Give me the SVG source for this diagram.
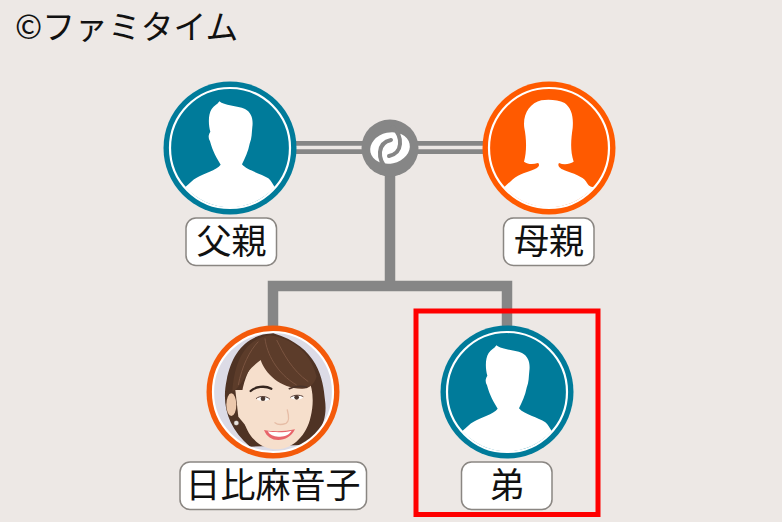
<svg xmlns="http://www.w3.org/2000/svg" width="782" height="522" viewBox="0 0 782 522">
<style>
.lb{fill:#fff;stroke:#8a8682;stroke-width:1.5}
.t{font-family:"Noto Sans CJK JP","Liberation Sans",sans-serif;font-weight:400;fill:#111;text-anchor:middle;font-size:35px}
.c{font-family:"Noto Sans CJK JP","Liberation Sans",sans-serif;font-weight:400;fill:#111;font-size:32.800px}
.ln{fill:none;stroke:#868686}
.sw{fill:none;stroke:#868686;stroke-width:4;stroke-linecap:round}
.sil{fill:#fff}
</style>
<defs>
<clipPath id="ph"><circle cx="273" cy="392" r="59"/></clipPath>
<g id="male">
<circle r="66.5" fill="#007b9a"/><circle r="60" fill="#007b9a" stroke="#fff" stroke-width="2.2"/>
<path class="sil" transform="scale(.3333) translate(-240,-235)" d="M208 95 C222 108 262 108 285 118 C305 128 310 150 307 172 C305 190 306 205 299 222 C295 245 285 265 276 284 C290 302 335 312 355 326 C364 334 368 344 374 352 A178 178 0 0 1 106 352 C118 342 128 330 140 324 C160 312 200 302 212 285 C200 265 188 245 180 215 C174 205 175 195 181 186 C175 165 174 135 185 118 C192 108 202 105 208 95Z"/>
</g>
<g id="female">
<circle r="66.5" fill="#ff5a00"/><circle r="60" fill="#ff5a00" stroke="#fff" stroke-width="2.2"/>
<path class="sil" transform="scale(.3333) translate(-238,-235)" d="M215 92 C235 88 265 90 285 100 C305 115 312 140 309 175 C305 205 300 240 312 276 C300 284 282 286 268 280 C262 288 270 298 290 304 C325 316 345 325 352 340 C356 347 360 352 372 352 A178 178 0 0 1 104 352 C118 340 128 328 145 318 C165 308 195 302 205 292 C210 288 208 282 205 280 C190 285 175 285 163 276 C172 245 170 205 164 175 C158 135 180 100 215 92Z"/>
</g>
</defs>
<rect width="782" height="522" fill="#ede8e5"/>
<text class="c" x="15" y="39">©ファミタイム</text>
<g id="connectors">
<path class="ln" stroke-width="13" d="M290 147.500H490"/>
<path fill="none" stroke="#ede8e5" stroke-width="3.400" d="M290 147.500H490"/>
<path class="ln" stroke-width="10.500" d="M390 170V286H273V340M390 286H507V340"/>
</g>
<g id="hub">
<circle cx="390" cy="148" r="28.500" fill="#868686"/>
<g transform="translate(390,148)">
<ellipse rx="20" ry="15.500" fill="#fff" transform="rotate(-12)"/>
<path class="sw" d="M-3 21 C-13 11 -13 -5 1 -8"/>
<path class="sw" transform="rotate(180)" d="M-3 21 C-13 11 -13 -5 1 -8"/>
</g>
</g>
<g id="father">
<use href="#male" x="230" y="148"/>
<rect class="lb" x="186" y="218" width="90.500" height="47.500" rx="10"/>
<text class="t" x="231.500" y="254">父親</text>
</g>
<g id="mother">
<use href="#female" x="549" y="148"/>
<rect class="lb" x="503.500" y="218" width="90.500" height="47.500" rx="10"/>
<text class="t" x="549" y="254">母親</text>
</g>
<g id="daughter">
<circle cx="273" cy="392" r="66.500" fill="#f45a0a"/>
<circle cx="273" cy="392" r="60" fill="#dcdbe6" stroke="#fff" stroke-width="2.200"/>
<g clip-path="url(#ph)"><g transform="translate(170,310) scale(.3333)">
<path fill="#4f3324" d="M310 70 C230 72 185 130 170 210 C155 280 170 350 240 410 L400 405 C440 385 475 340 465 270 C460 210 445 110 310 70Z"/>
<path fill="#f6dfcc" d="M250 160 C215 210 205 280 222 335 C240 395 285 420 325 418 C370 415 410 375 422 320 C432 280 430 240 415 205 C380 165 280 130 250 160Z"/>
<ellipse cx="184" cy="284" rx="15" ry="34" fill="#ecc8ac"/>
<path fill="#f6dfcc" d="M196 240 L230 240 L230 350 L205 320Z"/>
<path fill="#5c3c2a" d="M300 76 C240 85 195 130 187 245 C200 240 215 220 232 190 C245 170 260 160 272 150 C285 190 330 235 395 236 C415 237 432 225 440 200 C420 120 360 85 300 76Z"/>
<path fill="none" stroke="#7a5440" stroke-width="3" d="M285 85 C290 130 320 190 380 225M320 90 C340 130 365 180 415 215M265 95 C240 120 215 170 205 225"/>
<path fill="none" stroke="#35261f" stroke-width="7" stroke-linecap="round" d="M242 243 C255 230 285 226 304 236"/>
<path fill="none" stroke="#4a3329" stroke-width="5" stroke-linecap="round" d="M358 236 C372 229 395 227 410 232"/>
<ellipse cx="279" cy="266" rx="19" ry="6.500" fill="#fff"/><circle cx="279" cy="266" r="7" fill="#4a3830"/>
<ellipse cx="380" cy="262" rx="19" ry="6.500" fill="#fff"/><circle cx="380" cy="262" r="7" fill="#4a3830"/>
<path fill="none" stroke="#5a4038" stroke-width="3" d="M258 266 C270 256 290 258 300 268M361 262 C372 254 390 254 400 260"/>
<path fill="none" stroke="#e6bda6" stroke-width="4" stroke-linecap="round" d="M352 300 C358 322 358 335 348 340 C335 345 322 344 315 338"/>
<path fill="#e8646a" d="M282 360 C305 365 345 365 375 358 C365 380 345 390 325 390 C305 390 290 380 282 360Z"/>
<path fill="#fff" d="M293 364 C315 368 345 368 365 362 C355 378 340 380 325 380 C310 380 300 375 293 364Z"/>
<circle cx="199" cy="339" r="7" fill="#e8e4e0" stroke="#9a8a80"/>
</g></g>
<rect class="lb" x="180" y="462" width="186.500" height="47.500" rx="10"/>
<text class="t" x="273" y="498">日比麻音子</text>
</g>
<g id="brother">
<use href="#male" x="507" y="392"/>
<rect class="lb" x="461.500" y="462" width="90.500" height="47.500" rx="10"/>
<text class="t" x="507" y="498">弟</text>
</g>
<rect id="highlight" x="416" y="311" width="182" height="203.500" fill="none" stroke="#ff0000" stroke-width="5"/>
</svg>
